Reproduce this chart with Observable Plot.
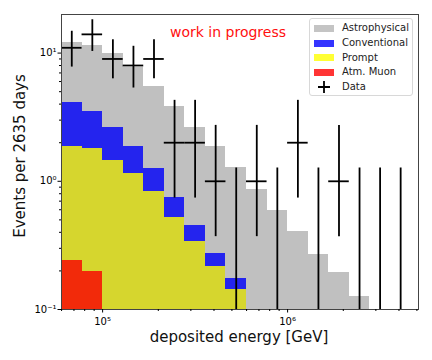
<!DOCTYPE html>
<html><head><meta charset="utf-8">
<script src="https://cdn.jsdelivr.net/npm/d3@7"></script>
<script src="https://cdn.jsdelivr.net/npm/@observablehq/plot@0.6"></script>
<style>
body{margin:0;background:#fff;}
#wrap{position:relative;width:432px;height:360px;font-family:"DejaVu Sans",sans-serif;overflow:hidden;}
#legend{position:absolute;left:309px;top:18px;width:104px;height:78px;border:1px solid #d8d8d8;border-radius:3px;background:rgba(255,255,255,0.85);box-sizing:border-box;}
.entry{position:absolute;left:0;height:14px;font-size:10px;line-height:14px;color:#222;}
.patch{position:absolute;left:4px;top:3.5px;width:20px;height:7px;}
.lab{position:absolute;left:32px;top:0;white-space:nowrap;}
#wip{position:absolute;left:170px;top:24px;font-size:14px;line-height:17px;color:#ff1010;white-space:nowrap;}
</style></head><body><div id="wrap"></div>
<script>
// log-spaced bin edges (GeV), 9 bins per decade
const binEdges = [59948, 77426, 100000, 129155, 166810, 215443, 278256, 359381, 464159, 599484, 774264, 1000000, 1291550, 1668101, 2154435, 2782559, 3593814, 4641589];
// stacked components (events per bin)
const atmMuon      = [0.241, 0.198, 0, 0, 0, 0, 0, 0, 0, 0, 0, 0, 0, 0, 0, 0, 0];
const prompt       = [1.64, 1.60, 1.46, 1.15, 0.836, 0.524, 0.340, 0.218, 0.143, 0, 0, 0, 0, 0, 0, 0, 0];
const conventional = [2.22, 1.73, 1.19, 0.73, 0.414, 0.218, 0.111, 0.055, 0.031, 0, 0, 0, 0, 0, 0, 0, 0];
const astrophysical= [8.1, 7.97, 7.25, 5.9, 4.25, 3.10, 2.20, 1.58, 1.10, 0.86, 0.587, 0.403, 0.268, 0.193, 0.127, 0, 0];
// data points and error bars
const dataCounts = [11, 14, 9, 8, 9, 2, 2, 1, 0, 1, 0, 2, 0, 1, 0, 0, 0];
const dataHigh   = [14.8, 18.2, 12.7, 11.3, 12.7, 4.28, 4.28, 2.73, 1.27, 2.73, 1.27, 4.28, 1.27, 2.73, 1.27, 1.27, 1.27];
const dataLow    = [7.78, 10.3, 6.3, 5.34, 6.3, 0.74, 0.74, 0.37, 0, 0.37, 0, 0.74, 0, 0.37, 0, 0, 0];

const seriesNames  = ["Atm. Muon", "Prompt", "Conventional", "Astrophysical"];
const seriesFill   = ["#f22a0a", "#d6d62e", "#2424ee", "#c0c0c0"];
const legendNames  = ["Astrophysical", "Conventional", "Prompt", "Atm. Muon", "Data"];
const legendColors = ["#c4c4c4", "#3434ff", "#ffff34", "#ff3434", null];

const xTicks = [1e5, 1e6];
const xTickLabels = ["10⁵", "10⁶"];
const yTicks = [0.1, 1, 10];
const yTickLabels = ["10⁻¹", "10⁰", "10¹"];
const xMinor = [6e4, 7e4, 8e4, 9e4, 2e5, 3e5, 4e5, 5e5, 6e5, 7e5, 8e5, 9e5, 2e6, 3e6, 4e6, 5e6];
const yMinor = [0.2, 0.3, 0.4, 0.5, 0.6, 0.7, 0.8, 0.9, 2, 3, 4, 5, 6, 7, 8, 9];

const comps = [atmMuon, prompt, conventional, astrophysical];
const rects = [];
for (let i = 0; i < binEdges.length - 1; i++) {
  let cum = 0;
  comps.forEach((vals, k) => {
    const v = vals[i];
    if (v > 0) rects.push({x1: binEdges[i], x2: binEdges[i + 1], y1: cum > 0 ? cum : 1e-4, y2: cum + v, fill: seriesFill[k], name: seriesNames[k]});
    cum += v;
  });
}
const pts = dataCounts.map((n, i) => ({
  a: binEdges[i], b: binEdges[i + 1], c: Math.sqrt(binEdges[i] * binEdges[i + 1]),
  n, hi: dataHigh[i], lo: dataLow[i] > 0 ? dataLow[i] : 1e-4
}));

const svg = Plot.plot({
  width: 432, height: 360,
  marginLeft: 61, marginRight: 14, marginTop: 14, marginBottom: 51,
  x: {type: "log", domain: [59948, 5.1e6]},
  y: {type: "log", domain: [0.1, 20]},
  color: {type: "identity"},
  style: {fontFamily: "DejaVu Sans", fontSize: "10px", color: "black", background: "white"},
  marks: [
    Plot.rect(rects, {x1: "x1", x2: "x2", y1: "y1", y2: "y2", fill: "fill", clip: true, shapeRendering: "crispEdges"}),
    Plot.ruleX(pts, {x: "c", y1: "lo", y2: "hi", stroke: "black", strokeWidth: 1.8, clip: true}),
    Plot.ruleY(pts.filter(d => d.n > 0), {y: "n", x1: "a", x2: "b", stroke: "black", strokeWidth: 1.8, clip: true}),
    Plot.frame({stroke: "#444", strokeWidth: 1}),
    Plot.axisX({ticks: xMinor, tickSize: 2, tickFormat: () => "", label: null}),
    Plot.axisX({ticks: xTicks, tickSize: 3.5, tickPadding: 5, tickFormat: d => xTickLabels[xTicks.indexOf(d)], fontSize: 10, label: null}),
    Plot.axisY({ticks: yMinor, tickSize: 2, tickFormat: () => "", label: null}),
    Plot.axisY({ticks: yTicks, tickSize: 3.5, tickPadding: 1.5, tickFormat: d => yTickLabels[yTicks.indexOf(d)], fontSize: 10, label: null})
  ]
});

const s = d3.select(svg);
s.append("text").attr("x", 239).attr("y", 341.5).attr("text-anchor", "middle")
  .attr("font-size", 15).attr("font-family", "DejaVu Sans").attr("fill", "#111").text("deposited energy [GeV]");
s.append("text").attr("transform", "translate(24.5,156) rotate(-90)").attr("text-anchor", "middle")
  .attr("font-size", 15).attr("font-family", "DejaVu Sans").attr("fill", "#111").text("Events per 2635 days");

const wrap = document.getElementById("wrap");
wrap.appendChild(svg);

const wip = document.createElement("div");
wip.id = "wip"; wip.textContent = "work in progress";
wrap.appendChild(wip);

const leg = document.createElement("div");
leg.id = "legend";
legendNames.forEach((name, i) => {
  const e = document.createElement("div");
  e.className = "entry";
  e.style.top = (2.3 + i * 14.7) + "px";
  e.style.width = "100%";
  if (legendColors[i]) {
    const p = document.createElement("div");
    p.className = "patch"; p.style.background = legendColors[i];
    e.appendChild(p);
  } else {
    const ns = "http://www.w3.org/2000/svg";
    const m = document.createElementNS(ns, "svg");
    m.setAttribute("width", 20); m.setAttribute("height", 14);
    m.style.position = "absolute"; m.style.left = "4px"; m.style.top = "0px";
    const h = document.createElementNS(ns, "path");
    h.setAttribute("d", "M4,7H16M10,1V13");
    h.setAttribute("stroke", "black"); h.setAttribute("stroke-width", "1.8");
    m.appendChild(h); e.appendChild(m);
  }
  const l = document.createElement("div");
  l.className = "lab"; l.textContent = name;
  e.appendChild(l);
  leg.appendChild(e);
});
wrap.appendChild(leg);
</script>
</body></html>
